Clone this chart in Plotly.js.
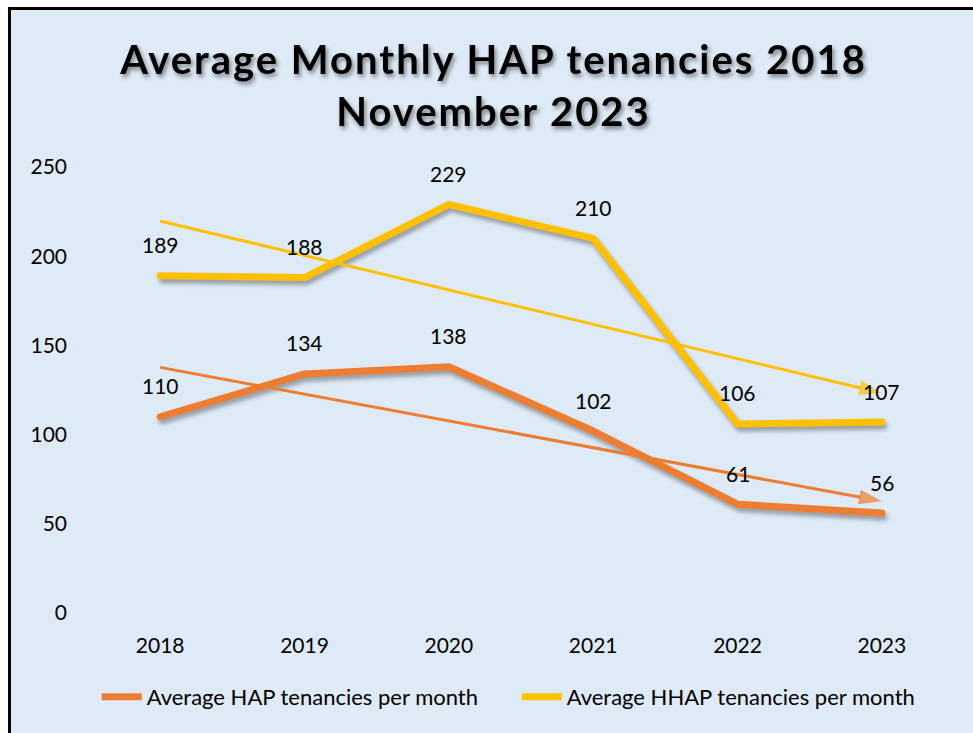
<!DOCTYPE html>
<html>
<head>
<meta charset="utf-8">
<script src="https://cdn.plot.ly/plotly-3.0.1.min.js"></script>
<style>
  html, body { margin: 0; padding: 0; background: #ffffff; width: 973px; height: 733px; overflow: hidden; }
  #wrap { position: absolute; left: 8px; top: 7px; width: 965px; height: 726px;
          border-left: 3px solid #000; border-top: 3px solid #000; background: #DEEAF6; }
  #plot { width: 965px; height: 726px; }
  .main-line path.js-line { filter: drop-shadow(2px 4px 2px rgba(60,60,60,0.45)); stroke-linecap: round; stroke-linejoin: round; }
  .gtitle { filter: drop-shadow(2px 3px 2px rgba(0,0,0,0.45)); letter-spacing: 2px; }
</style>
</head>
<body>
<div id="wrap"><div id="plot"></div></div>
<script>
// ---- data ----
const years = ["2018", "2019", "2020", "2021", "2022", "2023"];
const hapValues = [110, 134, 138, 102, 61, 56];
const hhapValues = [189, 188, 229, 210, 106, 107];
const hapName = "Average HAP tenancies per month";
const hhapName = "Average HHAP tenancies per month";
const titleText = "Average Monthly HAP tenancies 2018<br>November 2023";
const yTicks = [0, 50, 100, 150, 200, 250];

const ORANGE = "#ED7D31";
const YELLOW = "#FFC000";
const FONT = "Lato, 'Open Sans', sans-serif";

const idx = years.map((_, i) => i);

// least squares linear trendline (Excel-style)
function trend(vals) {
  const n = vals.length;
  const mx = idx.reduce((a, b) => a + b, 0) / n;
  const my = vals.reduce((a, b) => a + b, 0) / n;
  let sxy = 0, sxx = 0;
  idx.forEach((x, i) => { sxy += (x - mx) * (vals[i] - my); sxx += (x - mx) * (x - mx); });
  const m = sxy / sxx, c = my - m * mx;
  return [c + m * idx[0], c + m * idx[n - 1]];
}
const hapTrend = trend(hapValues);
const hhapTrend = trend(hhapValues);
const trendX = [idx[0], idx[idx.length - 1]];

const traces = [
  { x: idx, y: hapValues, name: hapName, type: "scatter", mode: "lines",
    line: { color: ORANGE, width: 7 }, hoverinfo: "skip" },
  { x: idx, y: hhapValues, name: hhapName, type: "scatter", mode: "lines",
    line: { color: YELLOW, width: 7 }, hoverinfo: "skip" },
  { x: trendX, y: hapTrend, showlegend: false, type: "scatter", mode: "lines+markers",
    line: { color: ORANGE, width: 3 },
    marker: { symbol: "arrow", angleref: "previous", size: [0, 24], color: ORANGE, line: { width: 0 } },
    hoverinfo: "skip" },
  { x: trendX, y: hhapTrend, showlegend: false, type: "scatter", mode: "lines+markers",
    line: { color: YELLOW, width: 3 },
    marker: { symbol: "arrow", angleref: "previous", size: [0, 24], color: YELLOW, line: { width: 0 } },
    hoverinfo: "skip" }
];

const annotations = [];
[hapValues, hhapValues].forEach(vals => {
  vals.forEach((v, i) => {
    annotations.push({ x: idx[i], y: v, xref: "x", yref: "y", text: String(v), showarrow: false,
      yshift: 31, font: { family: FONT, size: 21, color: "#000" } });
  });
});

const layout = {
  width: 965, height: 726,
  paper_bgcolor: "#DEEAF6", plot_bgcolor: "#DEEAF6",
  margin: { l: 77, r: 22, t: 157, b: 123 },
  font: { family: FONT, size: 20, color: "#000" },
  title: { text: titleText, x: 0.5, xref: "container", y: 1 - 64 / 726, yref: "container", yanchor: "top",
    font: { family: FONT, size: 40, color: "#000", weight: "bold" } },
  xaxis: { range: [-0.5, 5.5], tickvals: idx, ticktext: years, showgrid: false, zeroline: false,
    showline: false, ticks: "", ticklabelstandoff: 18, fixedrange: true,
    tickfont: { family: FONT, size: 21, color: "#000" } },
  yaxis: { range: [0, 250], tickvals: yTicks, showgrid: false, zeroline: false, showline: false,
    ticks: "", ticklabelstandoff: 20, fixedrange: true,
    tickfont: { family: FONT, size: 21, color: "#000" } },
  showlegend: true,
  legend: { orientation: "h", x: 0.01, xanchor: "left", y: -84 / 446, yanchor: "middle",
    bgcolor: "rgba(0,0,0,0)", font: { family: FONT, size: 22, color: "#000" },
    entrywidth: 365, itemwidth: 40 },
  annotations: annotations
};

Plotly.newPlot("plot", traces, layout, { displayModeBar: false, staticPlot: true }).then(gd => {
  const tr = gd.querySelectorAll(".scatterlayer .trace");
  if (tr[0]) tr[0].classList.add("main-line");
  if (tr[1]) tr[1].classList.add("main-line");
});
</script>
</body>
</html>
